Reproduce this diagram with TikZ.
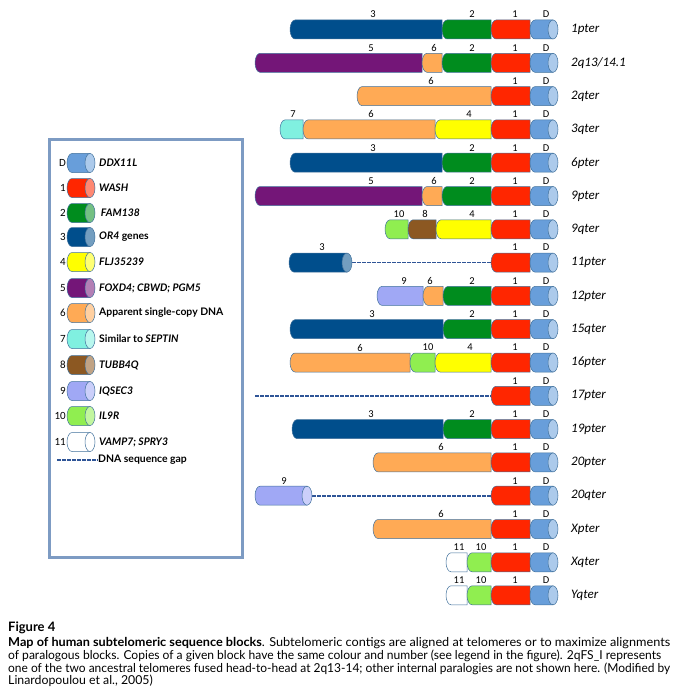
\documentclass[tikz,border=0pt]{standalone}
\usepackage{fontspec}
\setmainfont{Lato}
\newfontfamily\calfont{Carlito}
\usepackage{graphicx}
\usepackage{tikz}
\usetikzlibrary{positioning}

% block colours
\definecolor{cD}{RGB}{104,158,218}
\definecolor{cA}{RGB}{255,38,0}
\definecolor{cB}{RGB}{0,140,30}
\definecolor{cC}{RGB}{0,78,140}
\definecolor{cE}{RGB}{255,255,0}
\definecolor{cF}{RGB}{116,22,120}
\definecolor{cG}{RGB}{255,170,85}
\definecolor{cH}{RGB}{128,240,224}
\definecolor{cI}{RGB}{140,88,34}
\definecolor{cJ}{RGB}{160,168,245}
\definecolor{cK}{RGB}{144,238,80}
\definecolor{cL}{RGB}{255,255,255}
\definecolor{outl}{RGB}{65,113,156}
\definecolor{gapblue}{RGB}{47,85,151}
\definecolor{framegrey}{RGB}{125,155,195}

\tikzset{
  blk/.style={line width=0.5pt, draw=outl},
  numlbl/.style={font=\calfont\fontsize{10.5}{12}\selectfont, inner sep=0pt},
  rowlbl/.style={font=\calfont\itshape\fontsize{13}{15}\selectfont, anchor=west, inner sep=0pt},
  leglbl/.style={font=\bfseries\fontsize{10.4}{12}\selectfont, anchor=west, inner sep=0pt},
  legnum/.style={font=\calfont\fontsize{11}{13}\selectfont, anchor=east, inner sep=0pt},
  captxt/.style={font=\fontsize{12.3}{14}\selectfont, anchor=west, inner sep=0pt},
  gap/.style={dash pattern=on 3.5pt off 1.5pt, line width=1.6pt, draw=gapblue},
  legframe/.style={draw=framegrey, line width=3pt}
}

% one block: colour, from, to, row y
\newcommand{\seg}[4]{\filldraw[blk, fill=#1] (#2+5,#4-9.5) -- (#3,#4-9.5) -- (#3,#4+9.5) -- (#2+5,#4+9.5) arc[start angle=270, end angle=90, x radius=5pt, y radius=9.5pt] -- cycle;}
% open end of a block: colour, x, row y
\newcommand{\capend}[3]{\filldraw[blk, fill=#1!55!white] (#2,#3) ellipse[x radius=5pt, y radius=9.5pt];}
% number above a block: row, text, x, row y
\newcommand{\lbl}[4]{\node[numlbl] (#1-#2) at (#3,#4-15) {#2};}
% telomeric end, common to all rows
\newcommand{\telo}[2]{\seg{cA}{491}{530}{#2}\seg{cD}{530}{553}{#2}\capend{cD}{553}{#2}\lbl{#1}{1}{515}{#2}\lbl{#1}{D}{546}{#2}}
% caption line set to a given width
\newcommand{\capline}[2]{\resizebox{#1}{\height}{#2}}

\begin{document}
\begin{tikzpicture}[x=1pt, y=-1pt]
    \useasboundingbox (0,0) rectangle (680,695);
    % 1pter
    \seg{cC}{290}{442}{29.5}\seg{cB}{442}{491}{29.5}\telo{r0}{29.5}
    \lbl{r0}{3}{373}{29.5}\lbl{r0}{2}{472}{29.5}
    \node[rowlbl] (r0) at (571,29.5) {1pter};
    % 2q13/14.1
    \seg{cF}{255}{422}{62.8}\seg{cG}{422}{442}{62.8}\seg{cB}{442}{491}{62.8}\telo{r1}{62.8}
    \lbl{r1}{5}{371}{62.8}\lbl{r1}{6}{434}{62.8}\lbl{r1}{2}{472}{62.8}
    \node[rowlbl] (r1) at (571,62.8) {2q13/14.1};
    % 2qter
    \seg{cG}{357}{491}{96.1}\telo{r2}{96.1}
    \lbl{r2}{6}{431}{96.1}
    \node[rowlbl] (r2) at (571,96.1) {2qter};
    % 3qter
    \seg{cH}{280}{303}{129.4}\seg{cG}{303}{435}{129.4}\seg{cE}{435}{491}{129.4}\telo{r3}{129.4}
    \lbl{r3}{7}{293}{129.4}\lbl{r3}{6}{371}{129.4}\lbl{r3}{4}{469}{129.4}
    \node[rowlbl] (r3) at (571,129.4) {3qter};
    % 6pter
    \seg{cC}{290}{442}{162.7}\seg{cB}{442}{491}{162.7}\telo{r4}{162.7}
    \lbl{r4}{3}{373}{162.7}\lbl{r4}{2}{472}{162.7}
    \node[rowlbl] (r4) at (571,162.7) {6pter};
    % 9pter
    \seg{cF}{255}{422}{196}\seg{cG}{422}{442}{196}\seg{cB}{442}{491}{196}\telo{r5}{196}
    \lbl{r5}{5}{371}{196}\lbl{r5}{6}{434}{196}\lbl{r5}{2}{472}{196}
    \node[rowlbl] (r5) at (571,196) {9pter};
    % 9qter
    \seg{cK}{385}{408}{229.3}\seg{cI}{408}{436}{229.3}\seg{cE}{436}{491}{229.3}\telo{r6}{229.3}
    \lbl{r6}{10}{399}{229.3}\lbl{r6}{8}{425}{229.3}\lbl{r6}{4}{472}{229.3}
    \node[rowlbl] (r6) at (571,229.3) {9qter};
    % 11pter
    \coordinate (r7-ga) at (352,262.6);
    \coordinate (r7-gb) at (493,262.6);
    \draw[gap] (r7-ga) -- (r7-gb);
    \seg{cC}{289}{347}{262.6}\capend{cC}{347}{262.6}\telo{r7}{262.6}
    \lbl{r7}{3}{322}{262.6}
    \node[rowlbl] (r7) at (571,262.6) {11pter};
    % 12pter
    \seg{cJ}{377}{423}{295.9}\seg{cG}{423}{443}{295.9}\seg{cB}{443}{491}{295.9}\telo{r8}{295.9}
    \lbl{r8}{9}{404}{295.9}\lbl{r8}{6}{430}{295.9}\lbl{r8}{2}{472}{295.9}
    \node[rowlbl] (r8) at (571,295.9) {12pter};
    % 15qter
    \seg{cC}{290}{443}{329.2}\seg{cB}{443}{491}{329.2}\telo{r9}{329.2}
    \lbl{r9}{3}{372}{329.2}\lbl{r9}{2}{472}{329.2}
    \node[rowlbl] (r9) at (571,329.2) {15qter};
    % 16pter
    \seg{cG}{290}{410}{362.5}\seg{cK}{410}{435}{362.5}\seg{cE}{435}{491}{362.5}\telo{r10}{362.5}
    \lbl{r10}{6}{360}{362.5}\lbl{r10}{10}{428}{362.5}\lbl{r10}{4}{470}{362.5}
    \node[rowlbl] (r10) at (571,362.5) {16pter};
    % 17pter
    \coordinate (r11-ga) at (255,395.8);
    \coordinate (r11-gb) at (493,395.8);
    \draw[gap] (r11-ga) -- (r11-gb);
    \telo{r11}{395.8}
    \node[rowlbl] (r11) at (571,395.8) {17pter};
    % 19pter
    \seg{cC}{292}{443}{429.1}\seg{cB}{443}{491}{429.1}\telo{r12}{429.1}
    \lbl{r12}{3}{371}{429.1}\lbl{r12}{2}{472}{429.1}
    \node[rowlbl] (r12) at (571,429.1) {19pter};
    % 20pter
    \seg{cG}{373}{491}{462.4}\telo{r13}{462.4}
    \lbl{r13}{6}{441}{462.4}
    \node[rowlbl] (r13) at (571,462.4) {20pter};
    % 20qter
    \coordinate (r14-ga) at (312,495.7);
    \coordinate (r14-gb) at (493,495.7);
    \draw[gap] (r14-ga) -- (r14-gb);
    \seg{cJ}{255}{307}{495.7}\capend{cJ}{307}{495.7}\telo{r14}{495.7}
    \lbl{r14}{9}{284}{495.7}
    \node[rowlbl] (r14) at (571,495.7) {20qter};
    % Xpter
    \seg{cG}{373}{491}{529}\telo{r15}{529}
    \lbl{r15}{6}{441}{529}
    \node[rowlbl] (r15) at (571,529) {Xpter};
    % Xqter
    \seg{cL}{446}{467}{562.3}\seg{cK}{467}{491}{562.3}\telo{r16}{562.3}
    \lbl{r16}{11}{459}{562.3}\lbl{r16}{10}{481}{562.3}
    \node[rowlbl] (r16) at (571,562.3) {Xqter};
    % Yqter
    \seg{cL}{446}{467}{595.3}\seg{cK}{467}{491}{595.3}\telo{r17}{595.3}
    \lbl{r17}{11}{459}{595.3}\lbl{r17}{10}{481}{595.3}
    \node[rowlbl] (r17) at (571,595.3) {Yqter};

    % legend
    \draw[legframe] (49,140) rectangle (242,557);
    \foreach \c/\n/\t/\y in {cD/D/\textit{DDX11L}/163, cA/1/\textit{WASH}/188, cB/2/\,\textit{FAM138}/213,
        cC/3/\textit{OR4} genes/237, cE/4/\textit{FLJ35239}/262, cF/5/\textit{FOXD4; CBWD; PGM5}/288,
        cG/6/Apparent single-copy DNA/313, cH/7/Similar to \textit{SEPTIN}/339, cI/8/\textit{TUBB4Q}/365,
        cJ/9/\textit{IQSEC3}/391, cK/10/\textit{IL9R}/416, cL/11/\textit{VAMP7; SPRY3}/442} {
      \seg{\c}{67}{90}{\y}\capend{\c}{90}{\y}
      \node[legnum] (k\n) at (66,\y) {\n};
      \node[leglbl] (t\n) at (99,\y) {\t};
    }
    \coordinate (kgap) at (57,460);
    \node[leglbl] (tgap) at (98,460) {DNA sequence gap};
    \draw[gap] (kgap) -- (tgap.west);

    % caption
    \node[captxt, font=\bfseries\fontsize{13}{15}\selectfont] (fig) at (8,628) {Figure 4};
    \node[captxt] (cap1) at (8,643) {\capline{662pt}{\textbf{Map of human subtelomeric sequence blocks}. Subtelomeric contigs are aligned at telomeres or to maximize alignments}};
    \node[captxt] (cap2) at (8,656) {\capline{653pt}{of paralogous blocks. Copies of a given block have the same colour and number (see legend in the figure). 2qFS\_I represents}};
    \node[captxt] (cap3) at (8,668.5) {\capline{662pt}{one of the two ancestral telomeres fused head-to-head at 2q13-14; other internal paralogies are not shown here. (Modified by}};
    \node[captxt] (cap4) at (8,681) {Linardopoulou et al., 2005)};
\end{tikzpicture}
\end{document}
